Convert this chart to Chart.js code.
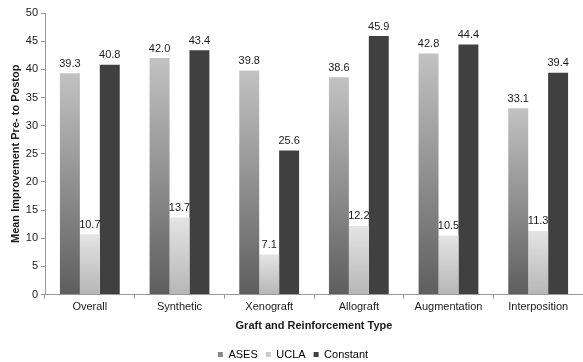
<!DOCTYPE html>
<html lang="en">
  <head>
    <meta charset="UTF-8" />
    <title>Mean Improvement by Graft Type</title>
    <script src="https://cdn.jsdelivr.net/npm/chart.js"></script>
    <style>
      html, body { margin: 0; padding: 0; background: #fff; }
      #wrap { width: 583px; height: 362px; }
    </style>
  </head>
  <body>
    <div id="wrap"><canvas id="improvementChart"></canvas></div>
    <script>
      const categories = ["Overall", "Synthetic", "Xenograft", "Allograft", "Augmentation", "Interposition"];
      const ases = [39.3, 42.0, 39.8, 38.6, 42.8, 33.1];
      const ucla = [10.7, 13.7, 7.1, 12.2, 10.5, 11.3];
      const constant = [40.8, 43.4, 25.6, 45.9, 44.4, 39.4];
      const yTicks = [0, 5, 10, 15, 20, 25, 30, 35, 40, 45, 50];

      const FONT = "'Liberation Sans', Arial, Helvetica, sans-serif";

      // gradient runs from each bar's own top down to the baseline
      function gradient(ctx, top, bottom) {
        const chart = ctx.chart;
        const y = chart.scales.y;
        if (!chart.chartArea || !y || ctx.type !== "data") return bottom;
        const yTop = y.getPixelForValue(ctx.raw);
        const yBase = y.getPixelForValue(0);
        const g = chart.ctx.createLinearGradient(0, yTop, 0, yBase);
        g.addColorStop(0, top);
        g.addColorStop(1, bottom);
        return g;
      }

      // value labels above each bar
      const barLabels = {
        id: "barLabels",
        afterDatasetsDraw(chart) {
          const ctx = chart.ctx;
          ctx.save();
          ctx.font = "11px " + FONT;
          ctx.fillStyle = "#1a1a1a";
          ctx.textAlign = "center";
          ctx.textBaseline = "bottom";
          chart.data.datasets.forEach((ds, i) => {
            chart.getDatasetMeta(i).data.forEach((bar, j) => {
              ctx.fillText(ds.data[j].toFixed(1), bar.x, bar.y - 4);
            });
          });
          ctx.restore();
        },
      };

      new Chart(document.getElementById("improvementChart"), {
        type: "bar",
        data: {
          labels: categories,
          datasets: [
            {
              label: "ASES",
              data: ases,
              backgroundColor: (c) => gradient(c, "#c2c2c2", "#5e5e5e"),
            },
            {
              label: "UCLA",
              data: ucla,
              backgroundColor: (c) => gradient(c, "#e4e4e4", "#b6b6b6"),
            },
            {
              label: "Constant",
              data: constant,
              backgroundColor: "#404040",
            },
          ],
        },
        options: {
          responsive: true,
          maintainAspectRatio: false,
          animation: false,
          categoryPercentage: 0.667,
          barPercentage: 1.0,
          layout: { padding: { top: 13, right: -3, left: 0, bottom: -8 } },
          scales: {
            x: {
              grid: { drawOnChartArea: false, tickLength: 4, color: "#999" },
              border: { color: "#999" },
              ticks: { color: "#1a1a1a", font: { family: FONT, size: 11 }, padding: 2 },
              title: {
                display: true,
                text: "Graft and Reinforcement Type",
                color: "#1a1a1a",
                font: { family: FONT, size: 11, weight: "bold" },
                padding: { top: 4, bottom: 8 },
              },
            },
            y: {
              min: 0,
              max: 50,
              afterBuildTicks: (s) => { s.ticks = yTicks.map((v) => ({ value: v })); },
              afterFit: (s) => { s.width = 45; },
              grid: { drawOnChartArea: false, tickLength: 4, color: "#999" },
              border: { color: "#999" },
              ticks: { color: "#1a1a1a", font: { family: FONT, size: 11 }, padding: 3 },
              title: {
                display: true,
                text: "Mean Improvement Pre- to Postop",
                color: "#1a1a1a",
                font: { family: FONT, size: 11, weight: "bold" },
                padding: { top: 9, bottom: 0 },
              },
            },
          },
          plugins: {
            legend: {
              position: "bottom",
              labels: {
                boxWidth: 5,
                boxHeight: 5,
                padding: 8,
                color: "#1a1a1a",
                font: { family: FONT, size: 11 },
                generateLabels: (chart) =>
                  chart.data.datasets.map((ds, i) => ({
                    text: ds.label,
                    fillStyle: ["#888888", "#cccccc", "#404040"][i],
                    strokeStyle: "transparent",
                    lineWidth: 0,
                    datasetIndex: i,
                  })),
              },
            },
            tooltip: { enabled: false },
          },
        },
        plugins: [barLabels],
      });
    </script>
  </body>
</html>
